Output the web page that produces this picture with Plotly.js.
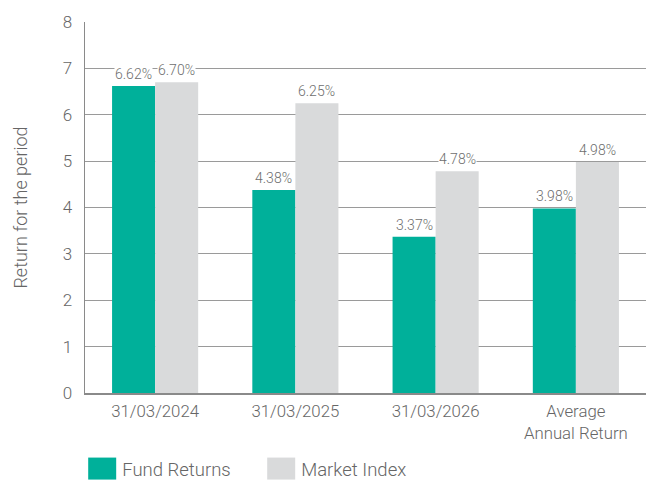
<!DOCTYPE html>
<html><head><meta charset="utf-8">
<script src="https://cdn.plot.ly/plotly-3.0.1.min.js"></script>
<style>body{margin:0;background:#fff}#c{width:646px;height:480px}</style>
</head><body><div id="c"></div>
<script>
const categories = ["31/03/2024", "31/03/2025", "31/03/2026", "Average<br>Annual Return"];
const fundReturns = [6.62, 4.38, 3.37, 3.98];
const marketIndex = [6.70, 6.25, 4.78, 4.98];
const seriesNames = ["Fund Returns", "Market Index"];
const yTicks = [0, 1, 2, 3, 4, 5, 6, 7, 8];

const FONT = "Roboto, 'Open Sans', sans-serif";
const green = "#00B09A", grey = "#D9DADB";
const fmt = v => v.toFixed(2) + "%";

const traces = [
  {type: "bar", name: seriesNames[0], x: categories, y: fundReturns, marker: {color: green}, hoverinfo: "none"},
  {type: "bar", name: seriesNames[1], x: categories, y: marketIndex, marker: {color: grey}, hoverinfo: "none"}
];

const offset = 0.1535;
const annotations = [];
[fundReturns, marketIndex].forEach((arr, s) => {
  arr.forEach((v, i) => {
    annotations.push({
      xref: "x", yref: "y", x: i + (s === 0 ? -offset : offset), y: v,
      text: fmt(v), showarrow: false, yanchor: "bottom", yshift: 3,
      bgcolor: "#fff", borderpad: 0,
      font: {family: FONT, size: 14, color: "#6e6e6e", weight: 300}
    });
  });
});

const layout = {
  width: 646, height: 480,
  margin: {l: 85, r: 0, t: 22, b: 87, autoexpand: false},
  paper_bgcolor: "#fff", plot_bgcolor: "#fff",
  barmode: "group", bargap: 0.386, bargroupgap: 0,
  font: {family: FONT, color: "#666", weight: 300},
  showlegend: true,
  legend: {orientation: "h", x: -0.005, xanchor: "left", y: -0.205, yanchor: "middle",
           font: {family: FONT, size: 18.5, color: "#666", weight: 300},
           entrywidth: 134, entrywidthmode: "pixels",
           traceorder: "normal", itemclick: false},
  xaxis: {type: "category", showline: true, linecolor: "#8a8a8a", linewidth: 1.5,
          ticks: "", ticklabelstandoff: 2, tickfont: {family: FONT, size: 16.8, color: "#666", weight: 300},
          showgrid: false, fixedrange: true},
  yaxis: {range: [0, 8], tickvals: yTicks, showgrid: true, gridcolor: "#9a9a9a", gridwidth: 1,
          showline: true, linecolor: "#8a8a8a", linewidth: 1.5, zeroline: false,
          ticks: "", ticklabelstandoff: 8, tickfont: {family: FONT, size: 17, color: "#666", weight: 300},
          title: {text: "Return for the period", standoff: 30, font: {family: FONT, size: 18, color: "#666", weight: 300}},
          fixedrange: true},
  annotations: annotations
};

Plotly.newPlot("c", traces, layout, {displayModeBar: false, staticPlot: true}).then(() => {
  document.querySelectorAll(".legend .legendpoints path").forEach(p => {
    p.setAttribute("d", "M14,11H-14V-11H14Z");
  });
  const cp = document.querySelectorAll(".legend [clip-path]");
  cp.forEach(e => e.removeAttribute("clip-path"));
});
</script></body></html>
